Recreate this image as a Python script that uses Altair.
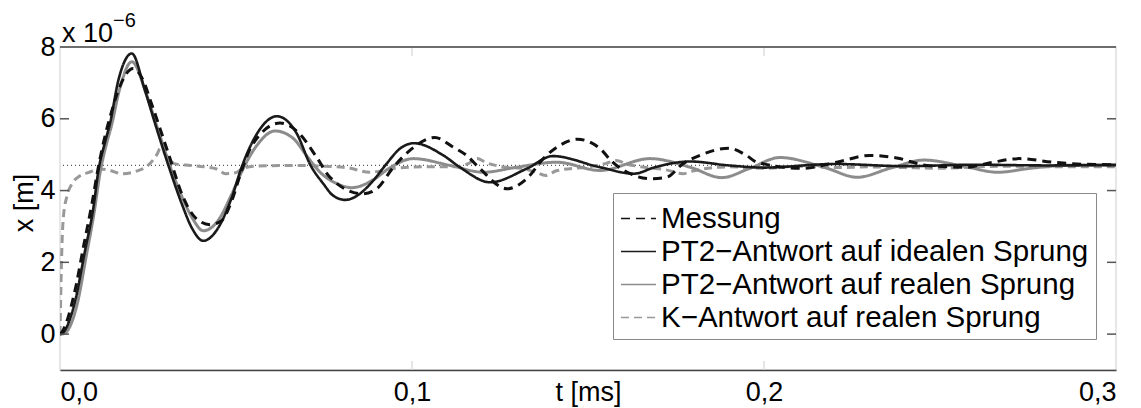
import altair as alt
import pandas as pd

# ---- data (t in ms, x in 1e-6 m) ----
S_MESS = "Messung"
S_IDEAL = "PT2\u2212Antwort auf idealen Sprung"
S_REAL = "PT2\u2212Antwort auf realen Sprung"
S_K = "K\u2212Antwort auf realen Sprung"
SERIES = [S_MESS, S_IDEAL, S_REAL, S_K]

MESS_T = [0.000, 0.0005, 0.004, 0.0068, 0.0092, 0.0107, 0.0125, 0.0145, 0.017, 0.0208, 0.0235, 0.026,
          0.0308, 0.035, 0.0384, 0.0426, 0.0459, 0.0488, 0.0516, 0.0545, 0.0625, 0.068, 0.0729, 0.0767,
          0.086, 0.090, 0.0947, 0.0994, 0.1065, 0.1117, 0.1155, 0.1193, 0.127, 0.1326, 0.1373, 0.142,
          0.147, 0.1534, 0.157, 0.162, 0.1676, 0.1723, 0.177, 0.1818, 0.190, 0.195, 0.198, 0.211,
          0.2207, 0.230, 0.2377, 0.2462, 0.2576, 0.265, 0.2727, 0.282, 0.2917, 0.300]
MESS_V = [0.00, 0.05, 1.10, 2.50, 3.70, 4.55, 5.40, 6.15, 6.90, 7.40, 7.10, 6.42,
          5.03, 3.81, 3.25, 3.05, 3.16, 3.72, 4.56, 5.25, 5.88, 5.59, 4.93, 4.37,
          3.91, 4.05, 4.65, 5.12, 5.48, 5.21, 4.98, 4.61, 4.05, 4.33, 4.89, 5.26,
          5.43, 5.17, 4.79, 4.47, 4.33, 4.37, 4.75, 4.98, 5.18, 4.98, 4.79, 4.62,
          4.79, 4.98, 4.91, 4.70, 4.65, 4.79, 4.89, 4.79, 4.73, 4.72]

IDEAL_T = [0.000, 0.0006, 0.0043, 0.0071, 0.0095, 0.0109, 0.0128, 0.0142, 0.0166, 0.0204, 0.0241, 0.027,
           0.0308, 0.0346, 0.0374, 0.0407, 0.045, 0.0488, 0.0516, 0.0554, 0.0616, 0.0672, 0.0712, 0.0748,
           0.0776, 0.081, 0.0852, 0.089, 0.0928, 0.0966, 0.1005, 0.1089, 0.1136, 0.1222, 0.1326, 0.140,
           0.1534, 0.163, 0.169, 0.179, 0.190, 0.200, 0.220, 0.240, 0.260, 0.280, 0.300]
IDEAL_V = [0.00, 0.02, 0.92, 2.32, 3.53, 4.55, 5.35, 5.87, 7.08, 7.82, 6.80, 5.87,
           4.70, 3.63, 2.97, 2.60, 2.97, 3.81, 4.65, 5.49, 6.07, 5.60, 4.70, 4.19,
           3.86, 3.74, 3.91, 4.28, 4.75, 5.17, 5.32, 4.98, 4.65, 4.23, 4.61, 4.96,
           4.65, 4.47, 4.65, 4.81, 4.70, 4.64, 4.74, 4.68, 4.72, 4.70, 4.71]

REAL_T = [0.000, 0.001, 0.0048, 0.0075, 0.0098, 0.0113, 0.0132, 0.0146, 0.017, 0.0204, 0.0245, 0.0275,
          0.0312, 0.035, 0.0378, 0.0407, 0.0448, 0.0488, 0.052, 0.0555, 0.0611, 0.0663, 0.070, 0.0739,
          0.0785, 0.0829, 0.089, 0.0935, 0.1004, 0.1108, 0.1203, 0.1297, 0.1411, 0.1534, 0.1676, 0.179,
          0.188, 0.196, 0.2045, 0.2173, 0.2265, 0.2358, 0.2455, 0.2557, 0.2665, 0.2756, 0.285, 0.300]
REAL_V = [0.00, 0.01, 0.80, 2.20, 3.45, 4.45, 5.30, 5.80, 6.85, 7.59, 6.70, 5.80,
          4.70, 3.75, 3.20, 2.88, 3.15, 3.90, 4.60, 5.20, 5.66, 5.45, 4.98, 4.51,
          4.20, 4.08, 4.30, 4.62, 4.89, 4.70, 4.51, 4.65, 4.79, 4.56, 4.89, 4.65,
          4.36, 4.62, 4.92, 4.64, 4.37, 4.62, 4.85, 4.70, 4.51, 4.62, 4.70, 4.72]

K_T = [0.000, 0.0003, 0.0006, 0.001, 0.002, 0.0035, 0.0055, 0.008, 0.0115, 0.0145, 0.0175, 0.022,
       0.025, 0.0275, 0.0285, 0.0305, 0.0325, 0.037, 0.041, 0.0445, 0.047, 0.050, 0.052, 0.056,
       0.065, 0.075, 0.082, 0.088, 0.095, 0.103, 0.112, 0.116, 0.1185, 0.121, 0.126, 0.131,
       0.135, 0.138, 0.141, 0.150, 0.155, 0.158, 0.161, 0.166, 0.172, 0.177, 0.180, 0.190,
       0.200, 0.210, 0.220, 0.230, 0.240, 0.250, 0.260, 0.270, 0.280, 0.300]
K_V = [0.00, 1.50, 2.60, 3.30, 3.85, 4.20, 4.40, 4.50, 4.60, 4.55, 4.47, 4.55,
       4.70, 5.00, 5.17, 4.95, 4.75, 4.70, 4.66, 4.60, 4.47, 4.50, 4.62, 4.68,
       4.70, 4.68, 4.63, 4.51, 4.62, 4.66, 4.66, 4.75, 4.89, 4.78, 4.66, 4.62,
       4.52, 4.42, 4.55, 4.66, 4.75, 4.84, 4.74, 4.65, 4.58, 4.47, 4.55, 4.66,
       4.62, 4.68, 4.64, 4.66, 4.64, 4.62, 4.66, 4.68, 4.66, 4.66]

STEADY = 4.70
Y_TICKS = [0, 2, 4, 6, 8]
X_TICKS = [0.0, 0.1, 0.2, 0.3]
X_DOMAIN = [0.0, 0.3]
Y_DOMAIN = [-1, 8]

COLORS = ["#111111", "#1a1a1a", "#8c8c8c", "#999999"]
DASHES = [[9, 6], [1, 0], [1, 0], [8, 5]]
WIDTHS = {S_MESS: 3, S_IDEAL: 2.6, S_REAL: 3, S_K: 3}

FONT = "Liberation Sans"
W, H = 1056, 323


def frame(name, t, v):
    return pd.DataFrame({"t": t, "v": v, "series": name})


dfs = {
    S_MESS: frame(S_MESS, MESS_T, MESS_V),
    S_IDEAL: frame(S_IDEAL, IDEAL_T, IDEAL_V),
    S_REAL: frame(S_REAL, REAL_T, REAL_V),
    S_K: frame(S_K, K_T, K_V),
}

xscale = alt.Scale(domain=X_DOMAIN, nice=False, zero=False)
yscale = alt.Scale(domain=Y_DOMAIN, nice=False, zero=False)

x_enc = alt.X("t:Q", scale=xscale, axis=alt.Axis(
    values=X_TICKS, title="t [ms]", labelExpr="replace(format(datum.value, '.1f'), '.', ',')",
    ticks=False, grid=False, domain=True, domainColor="#444444", domainWidth=1.5,
    labelFontSize=27, labelFont=FONT, labelColor="#000", labelPadding=9,
    titleFontSize=27, titleFont=FONT, titleFontWeight="normal", titleColor="#000",
    titleBaseline="top", titleY=9, titleX=W / 2))
y_enc = alt.Y("v:Q", scale=yscale, axis=alt.Axis(
    values=Y_TICKS, title="x [m]", ticks=False, grid=False, domain=False,
    labelFontSize=27, labelFont=FONT, labelColor="#000", labelPadding=5,
    titleFontSize=27, titleFont=FONT, titleFontWeight="normal", titleColor="#000",
    titleAngle=-90, titleX=-36, titleY=H / 2 - 6, titleBaseline="middle", titleAlign="center"))

color = alt.Color("series:N", scale=alt.Scale(domain=SERIES, range=COLORS), legend=alt.Legend(title=None))
dash = alt.StrokeDash("series:N", scale=alt.Scale(domain=SERIES, range=DASHES), legend=alt.Legend(title=None))

ref = alt.Chart(pd.DataFrame({"v": [STEADY]})).mark_rule(
    color="#555555", strokeDash=[1, 3], strokeWidth=1.2).encode(y=alt.Y("v:Q", scale=yscale))

ytick_df = pd.DataFrame({"v": [v for v in Y_TICKS if v != Y_DOMAIN[1]]})
left_ticks = alt.Chart(ytick_df).mark_rule(color="#555555", strokeWidth=1.5).encode(
    y=alt.Y("v:Q", scale=yscale), x=alt.value(0), x2=alt.value(9))
right_ticks = alt.Chart(ytick_df).mark_rule(color="#555555", strokeWidth=1.5).encode(
    y=alt.Y("v:Q", scale=yscale), x=alt.value(W - 9), x2=alt.value(W))

xtick_df = pd.DataFrame({"t": X_TICKS[1:-1]})
bottom_ticks = alt.Chart(xtick_df).mark_rule(color="#dddddd", strokeWidth=1.5).encode(
    x=alt.X("t:Q", scale=xscale), y=alt.value(H - 9), y2=alt.value(H))
top_ticks = alt.Chart(xtick_df).mark_rule(color="#dddddd", strokeWidth=1.5).encode(
    x=alt.X("t:Q", scale=xscale), y=alt.value(0), y2=alt.value(9))

top_line = alt.Chart(pd.DataFrame({"v": [Y_DOMAIN[1]]})).mark_rule(
    color="#444444", strokeWidth=1.5).encode(y=alt.Y("v:Q", scale=yscale))

lines = []
for name in [S_K, S_REAL, S_IDEAL, S_MESS]:
    lines.append(alt.Chart(dfs[name]).mark_line(
        interpolate="monotone", strokeWidth=WIDTHS[name], clip=True).encode(
        x=x_enc, y=y_enc, color=color, strokeDash=dash))

exp_base = alt.Chart(pd.DataFrame({"s": ["x 10"]})).mark_text(
    font=FONT, fontSize=27, align="left", baseline="alphabetic", color="#000").encode(
    text="s:N", x=alt.value(2), y=alt.value(-5))
exp_sup = alt.Chart(pd.DataFrame({"s": ["\u22126"]})).mark_text(
    font=FONT, fontSize=20, align="left", baseline="alphabetic", color="#000").encode(
    text="s:N", x=alt.value(53), y=alt.value(-20))

chart = alt.layer(
    ref, *lines, left_ticks, right_ticks, bottom_ticks, top_ticks, top_line, exp_base, exp_sup
).properties(
    width=W, height=H,
    autosize=alt.AutoSizeParams(type="none"),
    padding={"left": 60, "top": 47, "right": 25, "bottom": 38},
    background="white",
).configure_view(
    stroke="#e0e0e0", strokeWidth=1.5
).configure_legend(
    orient="none", legendX=553, legendY=146,
    strokeColor="#888888", fillColor="white", padding=7,
    labelFont=FONT, labelFontSize=29.5, labelColor="#000", labelLimit=0,
    symbolType="stroke", symbolSize=1225, symbolStrokeWidth=1.5,
    rowPadding=0, labelOffset=4, cornerRadius=0,
)

chart.save("out.html", embed_options={"renderer": "svg", "actions": False})
